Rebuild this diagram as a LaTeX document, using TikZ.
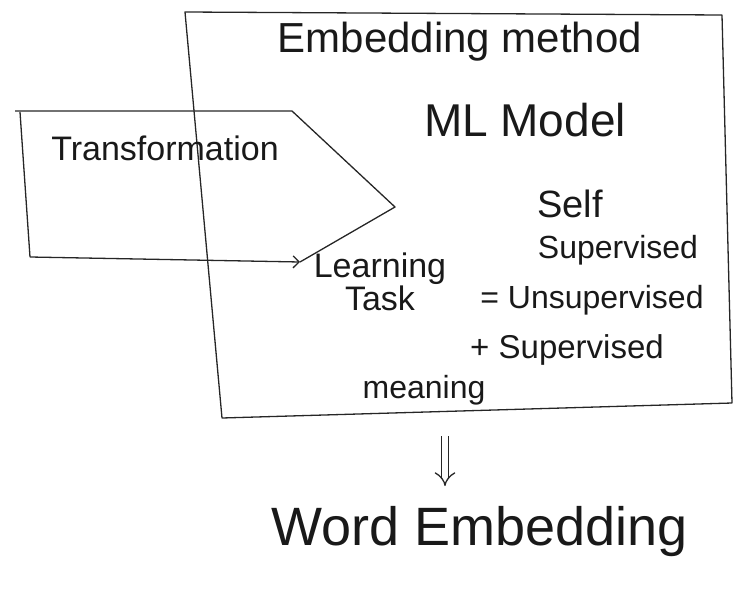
\documentclass[tikz,border=0pt]{standalone}
\usepackage{fontspec}
\setmainfont{Liberation Sans}
\usetikzlibrary{arrows.meta}
\begin{document}
\begin{tikzpicture}[x=1pt,y=-1pt,
  ink/.style={draw=black!85, line width=1.3pt, line join=round},
  lbl/.style={inner sep=0pt, text=black!90}]
\useasboundingbox (0,0) rectangle (742,589);
% big box (Embedding method)
\coordinate (b1) at (185,12);
\coordinate (b2) at (722,15);
\coordinate (b3) at (732,403);
\coordinate (b4) at (222,418);
\draw[ink] (b1) -- (b2) -- (b3) -- (b4) -- cycle;
% transformation arrow shape
\coordinate (t1) at (15,111);
\coordinate (t2) at (292,111);
\coordinate (t3) at (395,207);
\coordinate (t4) at (300,262);
\coordinate (t5) at (30,257);
\coordinate (t6) at (20,112);
\draw[ink] (t1) -- (t2) -- (t3) -- (t4);
\draw[ink] (t6) -- (t5);
\draw[ink, -{Straight Barb[length=6pt]}] (t5) -- (t4);
% texts
\node[lbl, font=\fontsize{34}{38}\selectfont] (trans) at (165,148) {Transformation};
\node[lbl, font=\fontsize{42}{46}\selectfont] (emb) at (460,42) {Embedding method};
\node[lbl, font=\fontsize{46}{50}\selectfont] (ml) at (525,120) {ML Model};
\node[lbl, font=\fontsize{38}{42}\selectfont] (self) at (570,204) {Self};
\node[lbl, font=\fontsize{32}{36}\selectfont] (sup) at (618,250) {Supervised};
\node[lbl, font=\fontsize{34}{30}\selectfont, align=center] (learn) at (380,282) {Learning\\Task};
\node[lbl, font=\fontsize{32}{36}\selectfont] (unsup) at (592,300) {= Unsupervised};
\node[lbl, font=\fontsize{33}{36}\selectfont] (sup2) at (567,350) {+ Supervised};
\node[lbl, font=\fontsize{32}{36}\selectfont] (mean) at (424,390) {meaning};
\node[lbl, font=\fontsize{54}{58}\selectfont] (word) at (480,532) {Word Embedding};
% implication arrow
\coordinate (a0) at (445,436);
\coordinate (a1) at (445,486);
\draw[ink, double, double distance=6pt, -{Implies}] (a0) -- (a1);
\end{tikzpicture}
\end{document}
